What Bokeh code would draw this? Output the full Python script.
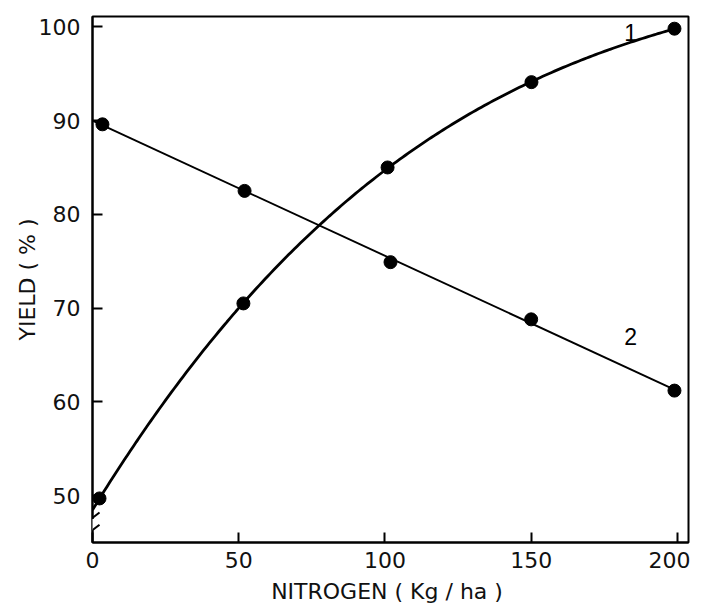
import numpy as np
from bokeh.plotting import figure
from bokeh.models import Range1d, FixedTicker, Arrow, Label
from bokeh.embed import file_html
from bokeh.resources import INLINE

# ---- data ----
nitrogen_1 = [2.4, 51.6, 100.9, 150.1, 199.0]
yield_1 = [49.7, 70.5, 85.0, 94.1, 99.8]
nitrogen_2 = [3.4, 52.0, 101.9, 150.0, 199.0]
yield_2 = [89.6, 82.5, 74.9, 68.8, 61.2]

x_ticks = [0, 50, 100, 150, 200]
y_ticks = [50, 60, 70, 80, 90, 100]
curve_labels = ["1", "2"]

FONT = "DejaVu Sans"

p = figure(width=690, height=589, frame_width=596, frame_height=526,
           x_range=Range1d(0, 203.8), y_range=Range1d(45.0, 101.1),
           output_backend="svg", toolbar_location=None,
           min_border_left=92, min_border_top=16, min_border_right=2, min_border_bottom=40)

p.grid.visible = False
p.outline_line_color = "black"
p.outline_line_width = 2
p.background_fill_color = "white"
p.border_fill_color = "white"

for ax in (p.xaxis[0], p.yaxis[0]):
    ax.axis_line_width = 2
    ax.axis_line_color = "black"
    ax.major_tick_in = 10
    ax.major_tick_out = 0
    ax.major_tick_line_width = 2
    ax.minor_tick_line_color = None
    ax.major_label_text_font = FONT
    ax.major_label_text_font_size = "22px"
    ax.major_label_text_color = "#111111"
    ax.axis_label_text_font = FONT
    ax.axis_label_text_font_size = "22px"
    ax.axis_label_text_font_style = "normal"
    ax.axis_label_text_color = "#111111"

p.xaxis.ticker = FixedTicker(ticks=x_ticks)
p.yaxis.ticker = FixedTicker(ticks=y_ticks)
p.xaxis.axis_label = "NITROGEN  ( Kg / ha )"
p.yaxis.axis_label = "YIELD ( % )"
p.xaxis.major_label_standoff = 9
p.yaxis.major_label_standoff = 12
p.xaxis.axis_label_standoff = 8
p.yaxis.axis_label_standoff = -4

# curve 1: smooth trend through the points
coef = np.polyfit(nitrogen_1, yield_1, 3)
xs = np.linspace(0, nitrogen_1[-1], 200)
p.line(xs, np.polyval(coef, xs), line_color="black", line_width=2.8)
p.scatter(nitrogen_1, yield_1, size=13, color="black")

# curve 2: straight line
c2 = np.polyfit(nitrogen_2, yield_2, 1)
xs2 = np.array([0, nitrogen_2[-1]])
p.line(xs2, np.polyval(c2, xs2), line_color="black", line_width=1.9)
p.scatter(nitrogen_2, yield_2, size=13, color="black")

# curve labels
p.add_layout(Label(x=184, y=99.4, text=curve_labels[0], text_font="Liberation Sans", text_font_size="23px",
                   text_color="black", text_align="center", text_baseline="middle"))
p.add_layout(Label(x=184, y=67.0, text=curve_labels[1], text_font="Liberation Sans", text_font_size="23px",
                   text_color="black", text_align="center", text_baseline="middle"))

# axis break on the y axis
p.add_layout(Arrow(x_start=0, y_start=46.3, x_end=0, y_end=47.5, end=None,
                   line_color="white", line_width=5, level="overlay"))
for y0, y1 in [(46.9, 48.2), (45.6, 46.9)]:
    p.add_layout(Arrow(x_start=-3.0, y_start=y0, x_end=2.4, y_end=y1, end=None,
                       line_color="black", line_width=2, level="overlay"))

open("out.html", "w").write(file_html(p, INLINE))
